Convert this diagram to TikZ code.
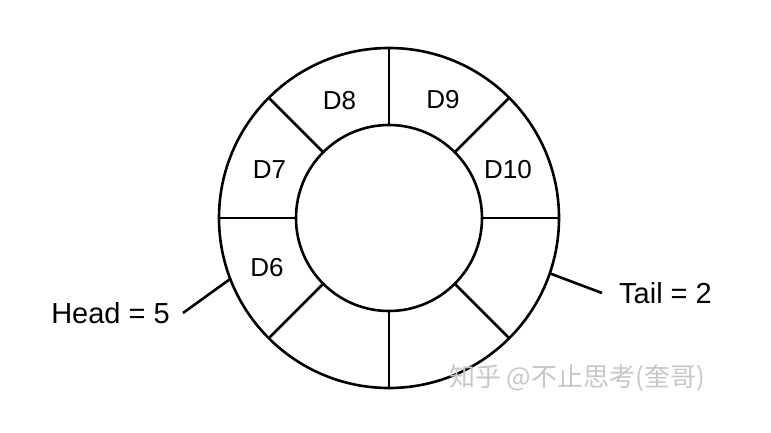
\documentclass[tikz,border=0pt]{standalone}
\usepackage{fontspec}
\setmainfont{Liberation Sans}
\newfontfamily\cjkfont{Noto Sans CJK SC}
\begin{document}
\begin{tikzpicture}[x=1pt,y=-1pt,
  ring/.style={draw, circle, line width=2.6pt, inner sep=0pt, outer sep=0pt},
  divider/.style={line width=2.6pt},
  slotlabel/.style={font=\fontsize{26}{28}\selectfont, inner sep=0pt},
  ptrlabel/.style={font=\fontsize{29}{31}\selectfont, inner ysep=0pt}]
\useasboundingbox (0,0) rectangle (771,433);
\node[ring, minimum size=340pt] (outer) at (389,218) {};
\node[ring, minimum size=186pt] (inner) at (389,218) {};
\foreach \a in {0,45,...,315} \draw[divider] (inner.\a) -- (outer.\a);
\node[slotlabel] (d6) at (267,268) {D6};
\node[slotlabel] (d7) at (269.5,170) {D7};
\node[slotlabel] (d8) at (339.5,101) {D8};
\node[slotlabel] (d9) at (443,99.5) {D9};
\node[slotlabel] (d10) at (508,170) {D10};
\node[ptrlabel, inner xsep=13pt, anchor=east] (head) at (183,313) {Head = 5};
\node[ptrlabel, inner xsep=17pt, anchor=west] (tail) at (602,293) {Tail = 2};
\draw[divider] (head.east) -- (outer.201);
\draw[divider] (outer.341) -- (tail.west);
\node[font=\cjkfont\fontsize{26}{28}\selectfont, text=black!22, inner sep=0pt] (wm) at (577,378) {知乎 @不止思考(奎哥)};
\end{tikzpicture}
\end{document}
